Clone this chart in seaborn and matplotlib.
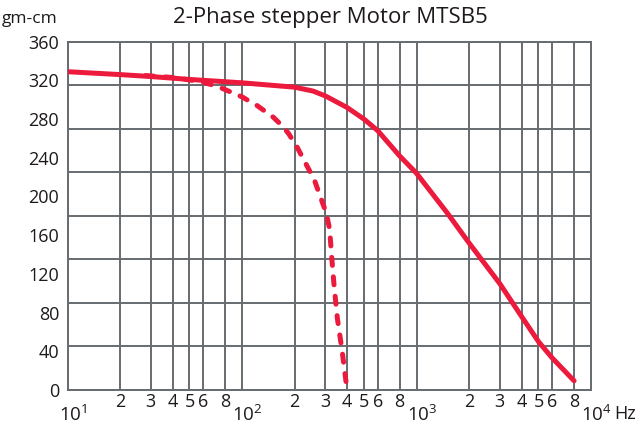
import matplotlib
matplotlib.use("Agg")
import matplotlib.pyplot as plt
from matplotlib.transforms import ScaledTranslation
import seaborn as sns
import pandas as pd
import numpy as np

# ---- data ----
solid_freq = [10, 20, 30, 50, 100, 200, 255, 300, 400, 500, 600, 800, 1000, 1500, 2000, 3000, 4000, 5000, 6000, 8000]
solid_torque = [329, 326, 324, 321, 317.5, 313, 309, 304, 292, 280, 268, 242, 224, 183, 152, 110, 76, 50, 33, 9.5]

dashed_freq = [28, 40, 57, 72, 100, 122, 151, 170, 185, 207, 232, 260, 290, 304, 318, 325, 337, 352, 375, 400]
dashed_torque = [325, 323, 319, 314, 303, 294, 282, 273, 265, 251, 234, 217, 193, 183, 166, 142, 108, 74, 40, 0]

y_tick_values = [0, 40, 80, 120, 160, 200, 240, 280, 320, 360]
y_grid_values = [0, 45, 90, 135, 180, 225, 270, 315, 360]
x_major = [10, 100, 1000, 10000]
x_major_labels = [r"$\mathregular{10^{1}}$", r"$\mathregular{10^{2}}$", r"$\mathregular{10^{3}}$", r"$\mathregular{10^{4}}$"]
x_minor_mult = [2, 3, 4, 5, 6, 8]

title = "2-Phase stepper Motor MTSB5"
y_unit = "gm-cm"
x_unit = "Hz"

# ---- style ----
sns.set_style("white")
plt.rcParams['font.family'] = ['Open Sans', 'DejaVu Sans']
plt.rcParams['mathtext.fontset'] = 'custom'
plt.rcParams['mathtext.rm'] = 'Open Sans'
plt.rcParams['mathtext.it'] = 'Open Sans'

red = "#EC1A3D"
grid_c = "#666B70"
text_c = "#1E1A1B"

W, H = 637, 424
fig = plt.figure(figsize=(W / 100, H / 100), dpi=100)
ax = fig.add_axes([67.5 / W, 1 - 390 / H, (591 - 67.5) / W, (390 - 41.7) / H])

df_s = pd.DataFrame({"f": solid_freq, "t": solid_torque})
df_d = pd.DataFrame({"f": dashed_freq, "t": dashed_torque})

ax.set_xscale("log")
ax.set_xlim(10, 10000)
ax.set_ylim(0, 360)

# grid lines (drawn under the curves)
for v in y_grid_values:
    ax.axhline(v, color=grid_c, lw=1.4, zorder=1)
minor_pos = [m * 10 ** e for e in (1, 2, 3) for m in x_minor_mult]
for v in minor_pos + x_major:
    ax.axvline(v, color=grid_c, lw=1.4, zorder=1)

sns.lineplot(data=df_s, x="f", y="t", ax=ax, color=red, linewidth=3.6,
             solid_capstyle="round", solid_joinstyle="round", zorder=3)
sns.lineplot(data=df_d, x="f", y="t", ax=ax, color=red, linewidth=3.6, zorder=3)
dl = ax.lines[-1]
dl.set_dashes([1.6, 2.3])
dl.set_dash_capstyle("round")

for sp in ax.spines.values():
    sp.set_color(grid_c)
    sp.set_linewidth(1.4)

ax.set_yticks(y_tick_values)
ax.set_yticklabels([str(v) for v in y_tick_values])
ax.tick_params(axis="y", length=0, pad=6, labelsize=13, labelcolor=text_c)

ax.set_xticks(x_major)
ax.set_xticklabels(x_major_labels)
ax.set_xticks(minor_pos, minor=True)
ax.set_xticklabels([str(m) for e in (1, 2, 3) for m in x_minor_mult], minor=True)
ax.tick_params(axis="x", which="major", length=8, width=1.4, color=grid_c,
               direction="out", pad=3, labelsize=13.5, labelcolor=text_c)
ax.tick_params(axis="x", which="minor", length=0, pad=2, labelsize=13, labelcolor=text_c)
ax.set_xlabel("")
ax.set_ylabel("")

# centre the "10" part (not the whole "10^n") under each decade tick
shift = ScaledTranslation(4 / 72, 0, fig.dpi_scale_trans)
for lab in ax.get_xticklabels(which="major"):
    lab.set_transform(lab.get_transform() + shift)

fig.text(330 / W, 1 - 17 / H, title, ha="center", va="center", fontsize=16, color=text_c)
fig.text(30 / W, 1 - 19 / H, y_unit, ha="center", va="center", fontsize=12.5, color=text_c)
fig.text(614.5 / W, 1 - 414 / H, x_unit, ha="left", va="center", fontsize=13, color=text_c)

fig.savefig("out.png", dpi=100)
